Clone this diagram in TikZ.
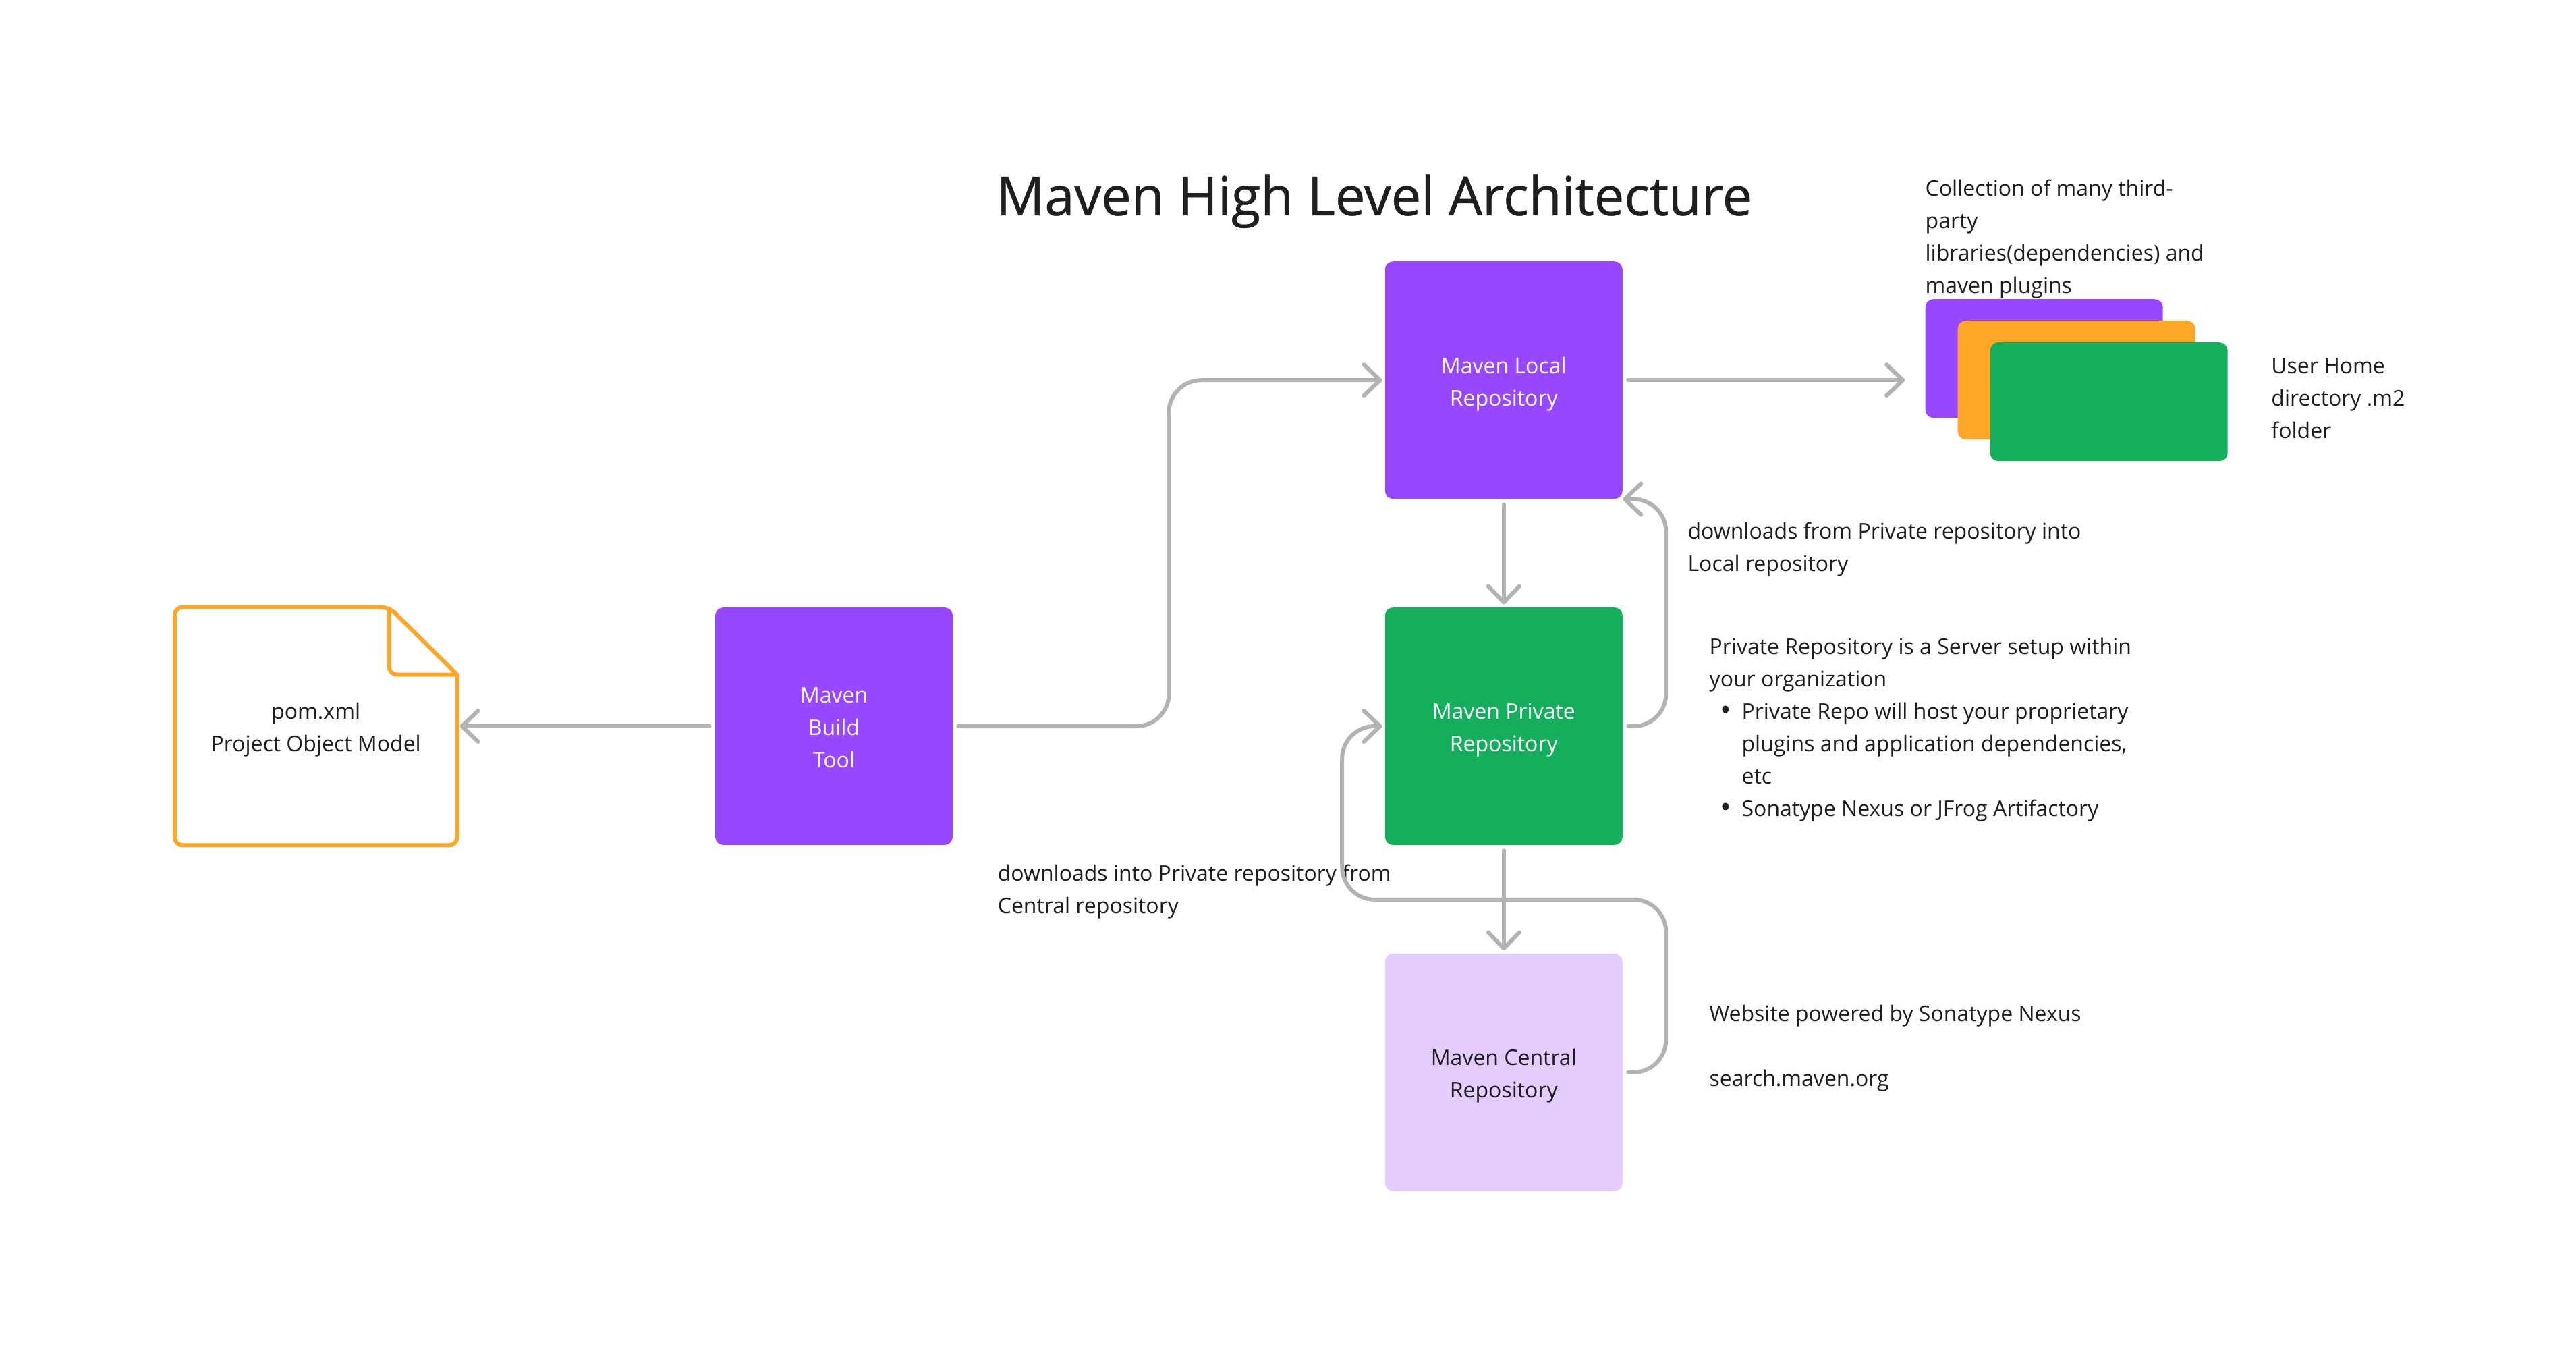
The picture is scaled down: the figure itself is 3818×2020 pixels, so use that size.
\documentclass[tikz,border=0pt]{standalone}
\usepackage{fontspec}
\usepackage{xcolor}
\usepackage{tikz}
\usetikzlibrary{arrows.meta,positioning,calc}
\setmainfont{Open Sans}
\newfontfamily\titlefont[FakeBold=0.6]{Open Sans}
\definecolor{MvnPurple}{HTML}{9747FF}
\definecolor{MvnLilac}{HTML}{E4CCFF}
\definecolor{MvnGreen}{HTML}{14AE5C}
\definecolor{MvnOrange}{HTML}{FFA629}
\definecolor{MvnGray}{HTML}{B3B3B3}
\definecolor{MvnText}{HTML}{1E1E1E}
\newcommand{\bulletrow}{\makebox[24pt]{\raisebox{-1.2pt}{\fontsize{22}{24}\selectfont\textbullet}}}
\newcommand{\bulletgap}{\hspace*{24pt}}

\begin{document}
\begin{tikzpicture}[
  x=0.5pt, y=-0.5pt,
  font=\fontsize{16}{24}\selectfont,
  midtext/.style={inner sep=0pt, align=center, text height=42pt, text depth=4.2pt},
  box/.style={midtext, rounded corners=6pt, minimum width=176pt, minimum height=176pt, text=white},
  stackbox/.style={rounded corners=6pt, minimum width=176pt, minimum height=88pt, inner sep=0pt},
  note/.style={anchor=west, inner sep=0pt, align=left, text=MvnText},
  filebody/.style={draw=MvnOrange, line width=3pt, rounded corners=6pt, line join=round},
  line/.style={-{Straight Barb[length=12pt, width=23pt, round]}, line width=3pt, draw=MvnGray, line cap=round, rounded corners=24pt, shorten >=2pt, shorten <=4pt}
]
\useasboundingbox (0,0) rectangle (3818,2020);

\node[box, fill=MvnPurple, text height=66pt] (build) at (1236,1076) {Maven\\Build\hspace*{4pt}\\Tool};
\node[midtext, minimum width=209pt, minimum height=176pt, text=MvnText, left=191pt of build] (pom) {pom.xml\\Project Object Model};
\node[box, fill=MvnGreen, right=320pt of build] (privaterepo) {Maven Private\\Repository};
\node[box, fill=MvnPurple, above=80pt of privaterepo] (localrepo) {Maven Local\\Repository};
\node[box, fill=MvnLilac, text=MvnText, below=80pt of privaterepo] (centralrepo) {Maven Central\\Repository};

\node[stackbox, fill=MvnPurple, right=224pt of localrepo, yshift=16pt] (stackback) {};
\node[stackbox, fill=MvnOrange, at={(stackback)}, xshift=24pt, yshift=-16pt] (stackmid) {};
\node[stackbox, fill=MvnGreen, at={(stackmid)}, xshift=24pt, yshift=-16pt] (stackfront) {};

\node[note, font=\titlefont\fontsize{39.7}{48}\selectfont, above=34pt of localrepo.north, anchor=base, xshift=-96pt] (title) {Maven High Level Architecture};
\node[note, above=0pt of stackback.north west, anchor=south west] (manynote) {Collection of many third-\\party\\libraries(dependencies) and\\maven plugins};
\node[note, right=32pt of stackfront.east, yshift=2.6pt] (homenote) {User Home\\directory .m2\\folder};
\node[note, right=48pt of localrepo.south east, yshift=-37pt] (localnote) {downloads from Private repository into\\Local repository};
\node[note, right=64pt of privaterepo.east, yshift=-2.5pt] (privatenote) {Private Repository is a Server setup within\\your organization\\\bulletrow Private Repo will host your proprietary\\\bulletgap plugins and application dependencies,\\\bulletgap etc\\\bulletrow Sonatype Nexus or JFrog Artifactory};
\node[note, left=287pt of centralrepo.north west, yshift=45.5pt, anchor=west] (centralnote) {downloads into Private repository from\\Central repository};
\node[note, right=64pt of centralrepo.east, yshift=18pt] (sitenote) {Website powered by Sonatype Nexus\\[24pt]search.maven.org};

\draw[filebody] (pom.north west) -- ($(pom.north east)+(-101,0)$) [sharp corners] -- ($(pom.north east)+(0,100)$) [rounded corners=6pt] -- (pom.south east) -- (pom.south west) -- cycle;
\draw[filebody] ($(pom.north east)+(-101,0)$) -- ($(pom.north east)+(-101,100)$) -- ($(pom.north east)+(0,100)$);

\draw[line] (build.west) -- (pom.east);
\draw[line] (build.east) -- ++(320,0) |- (localrepo.west);
\draw[line, shorten >=15pt] (localrepo.east) -- (localrepo.east -| stackback.west);
\draw[line] (localrepo) -- (privaterepo);
\draw[line] (privaterepo) -- (centralrepo);
\draw[line, shorten >=0pt] (privaterepo.east) -- ++(64,0) |- (localrepo.south east);
\draw[line] (centralrepo.east) -- ++(64,0) -- ++(0,-256) -- ++(-480,0) |- (privaterepo.west);
\end{tikzpicture}
\end{document}
